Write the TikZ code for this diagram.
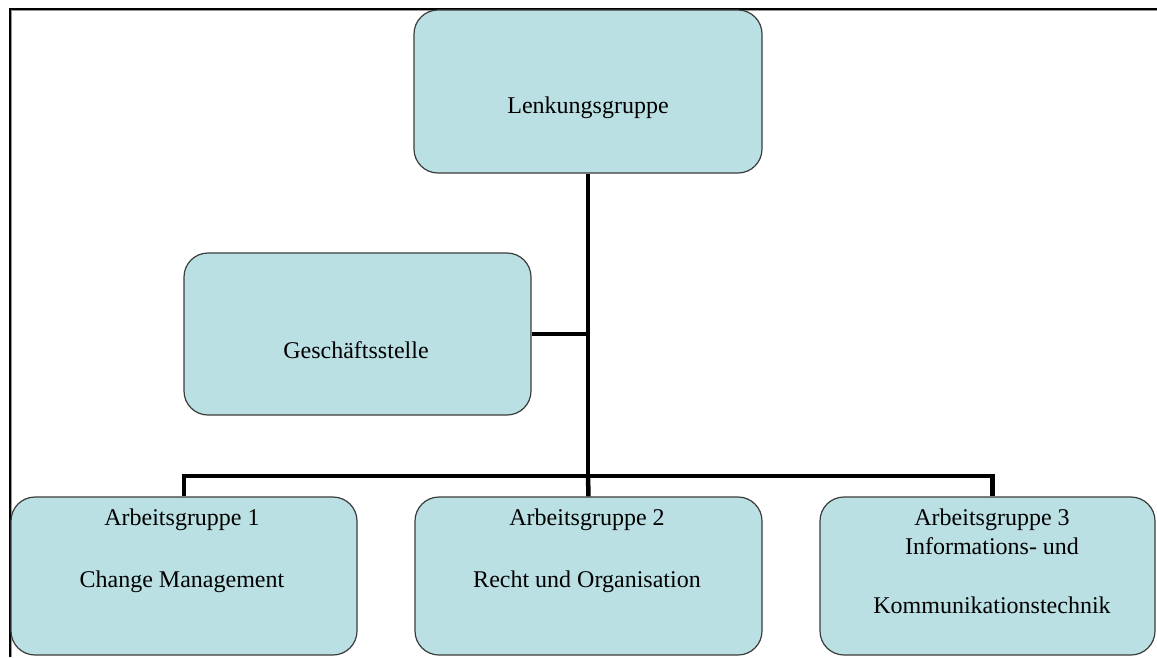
\documentclass[tikz,border=0pt]{standalone}
\usepackage{fontspec}
\setmainfont{Liberation Serif}
\definecolor{boxfill}{RGB}{186,224,228}
\definecolor{boxline}{RGB}{60,60,60}
\definecolor{frameshade}{RGB}{150,150,150}
\begin{document}
\begin{tikzpicture}[x=1pt,y=-1pt,
  unitbox/.style={draw=boxline, fill=boxfill, line width=1.2pt,
    rounded corners=24pt, inner sep=0pt},
  labeltext/.style={font=\fontsize{24}{29}\selectfont, align=center,
    anchor=base, inner sep=0pt, text=black},
  link/.style={line width=4.5pt, line join=miter}]

\useasboundingbox (0,0) rectangle (1157,657);
\fill[white] (0,0) rectangle (1157,657);

% outer frame (top and left edges)
\draw[frameshade, line width=1.5pt] (11.5,657) -- (11.5,10.5) -- (1157,10.5);
\draw[line width=2pt] (10,657) -- (10,9) -- (1157,9);

% boxes
\node[unitbox, minimum width=348pt, minimum height=163pt] (lenk) at (588,91.5) {};
\node[unitbox, minimum width=347pt, minimum height=162pt] (gs) at (357.5,334) {};
\node[unitbox, minimum width=346pt, minimum height=158pt] (ag1) at (184,576) {};
\node[unitbox, minimum width=347pt, minimum height=158pt] (ag2) at (588.5,576) {};
\node[unitbox, minimum width=335pt, minimum height=158pt] (ag3) at (987.5,576) {};

% labels (base anchor sits on the last line)
\node[labeltext] (lenkT) at (588,113) {Lenkungsgruppe};
\node[labeltext] (gsT) at (356,358) {Geschäftsstelle};
\node[labeltext] (ag1T) at (182,587) {Arbeitsgruppe 1\\[33pt]Change Management};
\node[labeltext] (ag2T) at (587,587) {Arbeitsgruppe 2\\[33pt]Recht und Organisation};
\node[labeltext] (ag3T) at (992,613) {Arbeitsgruppe 3\\Informations- und\\[30pt]Kommunikationstechnik};

% connectors
\coordinate (hub) at (588,476);
\draw[link] (lenk) -- (hub);
\draw[link] (gs.east) -- (gs.east -| hub);
\draw[link] (ag1.north) |- (hub);
\draw[link] (ag2.north) -- (hub);
\draw[link] ([xshift=5pt]ag3.north) |- (hub);
\end{tikzpicture}
\end{document}
